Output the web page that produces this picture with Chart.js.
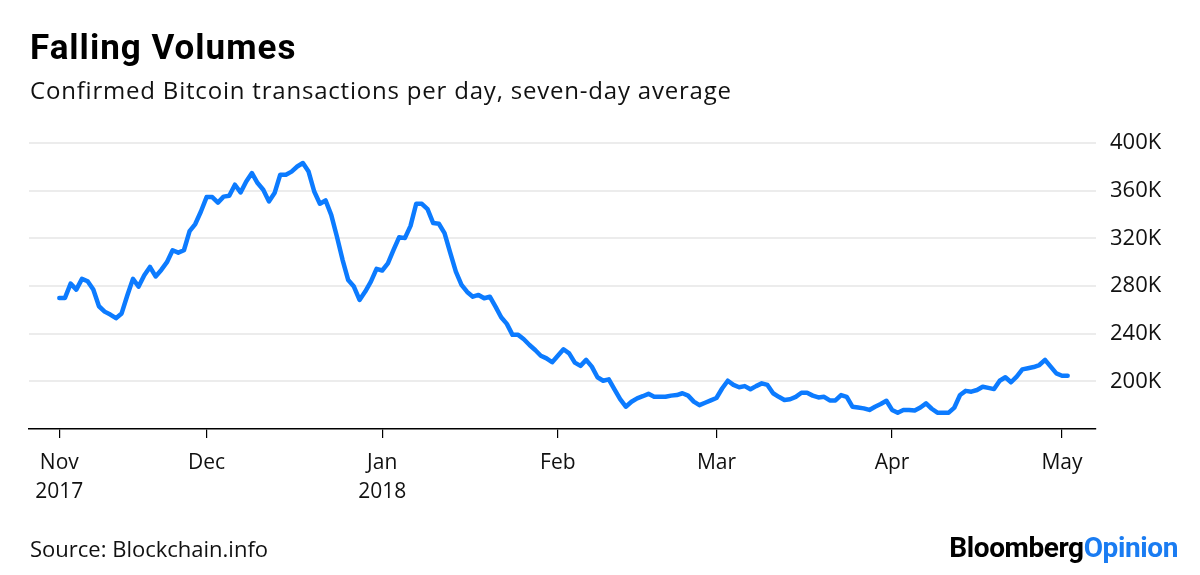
<!DOCTYPE html>
<html>
<head>
<meta charset="utf-8">
<script src="https://cdn.jsdelivr.net/npm/chart.js@4"></script>
<style>
  html, body { margin: 0; padding: 0; background: #fff; }
  #wrap { position: relative; width: 1200px; height: 575px; overflow: hidden; font-family: "Open Sans", Roboto, sans-serif; color: #000; }
  #title { position: absolute; left: 30px; top: 30px; font-family: Roboto, sans-serif; font-size: 35px; line-height: 35px; font-weight: 700; letter-spacing: 1px; }
  #subtitle { position: absolute; left: 30px; top: 78px; font-size: 24px; line-height: 24px; letter-spacing: 0.8px; color: #111; }
  #source { position: absolute; left: 30px; top: 537px; font-size: 22px; line-height: 22px; color: #111; }
  #logo { position: absolute; right: 22px; top: 534px; font-family: Roboto, sans-serif; font-size: 28px; line-height: 28px; font-weight: 700; letter-spacing: -0.4px; }
  #logo span { color: #1a7cf2; }
  canvas { position: absolute; left: 0; top: 0; }
</style>
</head>
<body>
<div id="wrap">
  <canvas id="c" width="1200" height="575"></canvas>
  <div id="title">Falling Volumes</div>
  <div id="subtitle">Confirmed Bitcoin transactions per day, seven-day average</div>
  <div id="source">Source: Blockchain.info</div>
  <div id="logo">Bloomberg<span>Opinion</span></div>
</div>
<script>
// Day numbers counted from 1 Nov 2017 (= 0); data begins 5 Nov 2017.
const startDay = 4;
// Seven-day average of confirmed transactions per day, in thousands
const values = [
  270, 270, 282, 277, 286, 284, 277, 263, 258.5, 256,
  253, 257, 272, 286, 279.5, 289, 296, 288, 293.5, 300,
  310, 308, 310, 326, 332, 342.5, 354.6, 354.6, 350, 355,
  355.7, 365, 358.5, 367.7, 374.8, 366.4, 360.8, 351, 358, 373.4,
  373.4, 376, 380.3, 383.2, 376, 359.3, 349, 351.8, 339.7, 321.5,
  302, 285, 279.5, 268.3, 275.3, 283.7, 294.4, 293, 299, 310.3,
  321, 320.2, 330.5, 349, 349, 344.5, 332.8, 332.2, 324.4, 308,
  292, 281, 275, 271, 272.5, 269.7, 271, 262.7, 253.8, 248.2,
  239, 239, 235.3, 230.5, 226.3, 221.5, 219.3, 216, 221.5, 226.9,
  223.5, 215.7, 213, 218, 212.3, 203.4, 200.5, 201.7, 193.3, 185,
  178.7, 182.9, 185.7, 187.5, 189.5, 187, 187, 187, 188, 188.5,
  190, 188, 183, 180, 182, 184, 186, 194, 200.5, 197,
  195, 196, 193.3, 196, 198.3, 197, 190, 187, 184.3, 185,
  187, 190.4, 190.4, 188, 186.5, 187, 184, 184, 188.5, 187,
  178.7, 178, 177.3, 176, 178.7, 181, 183.7, 176, 173.7, 176,
  176, 175.5, 178, 181.5, 177, 173.7, 173.7, 173.7, 178, 188.5,
  192, 191.3, 192.7, 195.5, 194.5, 193.5, 200.5, 203.4, 199.2, 204,
  210, 211, 212, 213.7, 218, 212.3, 206.7, 204.7, 204.7
];
// X-axis ticks (day numbers) and their labels
const xTickDays = [4, 30, 61, 92, 120, 151, 181];
const xTickLabels = [["Nov", "2017"], ["Dec"], ["Jan", "2018"], ["Feb"], ["Mar"], ["Apr"], ["May"]];
// Y-axis
const yTickValues = [160, 180, 200, 220, 240, 260, 280, 300, 320, 340, 360, 380, 400];
const yLabelValues = [200, 240, 280, 320, 360, 400];

const points = values.map((v, i) => ({ x: startDay + i, y: v }));

new Chart(document.getElementById('c'), {
  type: 'line',
  data: {
    datasets: [{
      data: points,
      borderColor: '#0c7bff',
      borderWidth: 4.5,
      pointRadius: 0,
      tension: 0,
      borderJoinStyle: 'round',
      borderCapStyle: 'round',
      fill: false
    }]
  },
  options: {
    responsive: false,
    animation: false,
    devicePixelRatio: 1,
    layout: { padding: { left: 29, right: 20, top: 143, bottom: 66 } },
    plugins: { legend: { display: false }, tooltip: { enabled: false } },
    scales: {
      x: {
        type: 'linear',
        min: -1.35,
        max: 187,
        afterBuildTicks: (s) => { s.ticks = xTickDays.map(v => ({ value: v })); },
        afterFit: (s) => { s.height = 80; },
        border: { display: true, color: '#000', width: 1.5 },
        grid: { drawOnChartArea: false, drawTicks: true, tickLength: 9, color: '#000', lineWidth: 1.2 },
        ticks: {
          autoSkip: false,
          maxRotation: 0,
          padding: 10,
          color: '#111',
          font: { family: '"Open Sans", Roboto, sans-serif', size: 21, lineHeight: 1.4 },
          callback: (v) => { const i = xTickDays.indexOf(v); return i >= 0 ? xTickLabels[i] : ''; }
        }
      },
      y: {
        position: 'right',
        min: 160,
        max: 400,
        afterBuildTicks: (s) => { s.ticks = yTickValues.map(v => ({ value: v })); },
        afterFit: (s) => { s.width = 84; },
        border: { display: false },
        grid: {
          drawTicks: false,
          lineWidth: 2,
          color: (ctx) => (ctx.tick && ctx.tick.value === 160) ? 'rgba(0,0,0,0)' : '#ececec'
        },
        ticks: {
          padding: 14,
          color: '#111',
          font: { family: '"Open Sans", Roboto, sans-serif', size: 22 },
          callback: (v) => yLabelValues.includes(v) ? v + 'K' : ''
        }
      }
    }
  }
});
</script>
</body>
</html>
